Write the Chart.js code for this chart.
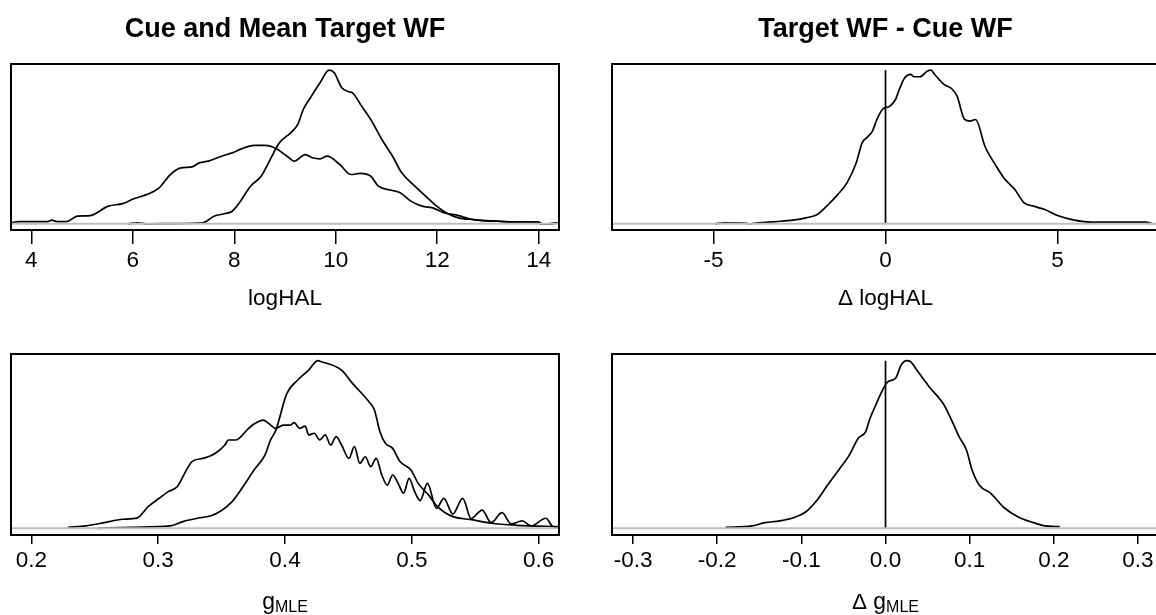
<!DOCTYPE html>
<html><head><meta charset="utf-8">
<script src="https://cdn.jsdelivr.net/npm/chart.js@4.4.1/dist/chart.umd.min.js"></script>
<style>
html,body{margin:0;padding:0;background:#fff;overflow:hidden;width:1156px;height:615px;position:relative;}
canvas{position:absolute;}
</style></head><body>
<canvas id="c1"></canvas><canvas id="c2"></canvas><canvas id="c3"></canvas><canvas id="c4"></canvas>
<script>
// ---------- DATA ----------
const titleLeft = "Cue and Mean Target WF";
const titleRight = "Target WF - Cue WF";

// Panel 1: logHAL (cue vs mean target)
const logHAL_ticks = [4, 6, 8, 10, 12, 14];
const logHAL_labels = ["4", "6", "8", "10", "12", "14"];
const logHAL_target_x = [5.91,6.09,6.31,6.81,7.38,7.60,7.82,7.96,8.10,8.32,8.53,8.71,8.89,9.11,9.25,9.36,9.50,9.69,9.87,9.97,10.12,10.26,10.33,10.51,10.69,10.91,11.12,11.30,11.56,11.77,11.99,12.20,12.42,12.71,13.07,13.43,14.00,14.07,14.22,14.41];
const logHAL_target_y = [0,0.007,0,0.002,0.007,0.05,0.067,0.082,0.137,0.245,0.31,0.42,0.527,0.592,0.646,0.744,0.82,0.918,1,0.983,0.885,0.859,0.852,0.766,0.679,0.549,0.44,0.332,0.245,0.18,0.115,0.067,0.039,0.028,0.02,0.013,0.011,0,0,0.007];
const logHAL_cue_x = [3.59,3.76,4.33,4.40,4.51,4.69,4.91,5.16,5.52,5.80,6.02,6.27,6.52,6.74,6.95,7.17,7.31,7.49,7.75,7.96,8.14,8.39,8.61,8.83,9.04,9.18,9.40,9.54,9.69,9.83,10.08,10.30,10.48,10.69,10.84,11.09,11.27,11.48,11.70,11.91,12.13,12.42,12.63,12.92,13.21,13.43,14.00,14.03,14.18,14.41];
const logHAL_cue_y = [0.007,0.015,0.015,0.024,0.015,0.015,0.05,0.054,0.115,0.132,0.163,0.19,0.234,0.321,0.364,0.371,0.397,0.408,0.44,0.462,0.488,0.51,0.51,0.488,0.44,0.408,0.451,0.43,0.423,0.44,0.386,0.321,0.328,0.31,0.245,0.219,0.202,0.148,0.115,0.104,0.072,0.054,0.033,0.02,0.017,0.011,0.011,0,0,0.007];

// Panel 2: delta logHAL
const dlogHAL_ticks = [-5, 0, 5];
const dlogHAL_labels = ["-5", "0", "5"];
const dlogHAL_x = [-4.96,-4.69,-4.04,-3.98,-3.72,-3.17,-2.69,-2.31,-1.98,-1.66,-1.39,-1.12,-0.85,-0.68,-0.52,-0.38,-0.25,-0.09,0.13,0.29,0.40,0.56,0.73,0.83,1.00,1.21,1.32,1.43,1.70,1.92,2.08,2.30,2.46,2.62,2.89,3.22,3.44,3.76,4.03,4.30,4.63,5.00,5.49,5.98,7.55,7.77];
const dlogHAL_y = [0,0.007,0.004,0,0.007,0.015,0.024,0.039,0.061,0.126,0.19,0.267,0.397,0.527,0.566,0.603,0.679,0.744,0.766,0.809,0.874,0.95,0.972,0.957,0.957,0.993,1,0.972,0.907,0.88,0.831,0.679,0.668,0.679,0.505,0.375,0.299,0.223,0.137,0.115,0.093,0.054,0.024,0.011,0.011,0];

// Panel 3: gMLE (cue vs mean target)
const gMLE_ticks = [0.2, 0.3, 0.4, 0.5, 0.6];
const gMLE_labels = ["0.2", "0.3", "0.4", "0.5", "0.6"];
const gMLE_target_x = [0.2519,0.2807,0.3094,0.3195,0.331,0.341,0.3497,0.3583,0.367,0.3756,0.3842,0.3886,0.3928,0.4015,0.4101,0.4187,0.4259,0.4288,0.4446,0.4532,0.4662,0.4705,0.4748,0.4791,0.4849,0.4907,0.4993,0.505,0.5136,0.5194,0.5309,0.5482,0.5626,0.5827,0.6164];
const gMLE_target_y = [0,0.006,0.014,0.04,0.06,0.073,0.105,0.159,0.249,0.348,0.437,0.527,0.586,0.805,0.885,0.944,1,0.994,0.944,0.865,0.755,0.706,0.577,0.507,0.477,0.398,0.348,0.268,0.195,0.135,0.074,0.05,0.03,0.018,0.01];
const gMLE_cue_x = [0.2289,0.2432,0.2576,0.272,0.2835,0.2921,0.3008,0.308,0.3152,0.3209,0.3267,0.3353,0.341,0.3468,0.3526,0.3554,0.3612,0.3713,0.3756,0.3828,0.3871,0.3928,0.3986,0.4043,0.4072,0.4115,0.4159,0.4187,0.4231,0.4274,0.4317,0.436,0.4403,0.4446,0.4504,0.4547,0.459,0.4633,0.4676,0.4719,0.4763,0.4806,0.4849,0.4892,0.4935,0.4978,0.5022,0.5065,0.5123,0.5194,0.5252,0.5323,0.5401,0.5467,0.5554,0.5625,0.5711,0.5783,0.5869,0.5941,0.6056,0.6114,0.6164];
const gMLE_cue_y = [0.006,0.014,0.034,0.054,0.062,0.129,0.179,0.219,0.249,0.328,0.398,0.417,0.431,0.457,0.497,0.527,0.527,0.596,0.622,0.646,0.626,0.596,0.616,0.616,0.63,0.596,0.61,0.557,0.567,0.527,0.557,0.497,0.547,0.497,0.417,0.487,0.388,0.427,0.368,0.417,0.318,0.258,0.318,0.268,0.209,0.298,0.219,0.165,0.268,0.119,0.179,0.085,0.179,0.058,0.109,0.034,0.093,0.026,0.044,0.014,0.06,0.01,0.006];

// Panel 4: delta gMLE
const dgMLE_ticks = [-0.3, -0.2, -0.1, 0.0, 0.1, 0.2, 0.3];
const dgMLE_labels = ["-0.3", "-0.2", "-0.1", "0.0", "0.1", "0.2", "0.3"];
const dgMLE_x = [-0.19,-0.159,-0.143,-0.1255,-0.1078,-0.0945,-0.0812,-0.07,-0.0556,-0.0435,-0.0324,-0.0235,-0.0191,-0.0124,-0.0035,0.0031,0.012,0.0186,0.0253,0.0297,0.0386,0.0519,0.0696,0.0785,0.0874,0.0962,0.1029,0.1118,0.1251,0.1406,0.1583,0.176,0.1894,0.207];
const dgMLE_y = [0.006,0.014,0.034,0.044,0.066,0.099,0.169,0.249,0.348,0.432,0.537,0.577,0.646,0.726,0.825,0.875,0.895,0.974,1,0.994,0.934,0.845,0.736,0.646,0.547,0.467,0.348,0.255,0.209,0.124,0.066,0.034,0.014,0.01];

// axis limits (R style 4% extension)
const logHAL_range = [3.6, 14.4];
const dlogHAL_range = [-7.95, 7.95];
const gMLE_range = [0.184, 0.616];
const dgMLE_range = [-0.325, 0.325];

// ---------- DRAWING ----------
const FONT = "'Liberation Sans', Arial, Helvetica, sans-serif";
const BASE = 22.5;
function pts(xs, ys) { return xs.map((x, i) => ({ x: x, y: ys[i] })); }

const boxPlugin = {
  id: 'box',
  afterDraw(chart) {
    const ctx = chart.ctx, a = chart.chartArea;
    ctx.save();
    ctx.strokeStyle = '#000'; ctx.lineWidth = 2;
    ctx.strokeRect(a.left, a.top, a.right - a.left, a.bottom - a.top);
    ctx.restore();
  }
};
const axisTitlePlugin = {
  id: 'axisTitle',
  afterDraw(chart, args, opts) {
    if (!opts || !opts.parts) return;
    const ctx = chart.ctx, a = chart.chartArea;
    ctx.save();
    ctx.fillStyle = '#000'; ctx.textBaseline = 'alphabetic'; ctx.textAlign = 'left';
    let total = 0;
    const widths = opts.parts.map(p => { ctx.font = p.size + 'px ' + FONT; const w = ctx.measureText(p.text).width; total += w; return w; });
    let x = (a.left + a.right) / 2 - total / 2;
    opts.parts.forEach((p, i) => {
      ctx.font = p.size + 'px ' + FONT;
      ctx.fillText(p.text, x, a.bottom + opts.offset + (p.dy || 0));
      x += widths[i];
    });
    ctx.restore();
  }
};

function makePanel(id, pos, spec) {
  const cv = document.getElementById(id);
  cv.width = pos.w; cv.height = pos.h;
  cv.style.left = pos.x + 'px'; cv.style.top = pos.y + 'px';
  cv.style.width = pos.w + 'px'; cv.style.height = pos.h + 'px';
  const datasets = [];
  datasets.push({ data: [{ x: spec.range[0], y: 0 }, { x: spec.range[1], y: 0 }], borderColor: '#bebebe', borderWidth: 2, pointRadius: 0 });
  let peak = 0;
  spec.curves.forEach(c => {
    peak = Math.max(peak, Math.max.apply(null, c[1]));
    datasets.push({ data: pts(c[0], c[1]), borderColor: '#000', borderWidth: 1.7, pointRadius: 0, cubicInterpolationMode: 'monotone' });
  });
  if (spec.zeroLine) {
    datasets.push({ data: [{ x: 0, y: 0 }, { x: 0, y: peak }], borderColor: '#000', borderWidth: 1.7, pointRadius: 0 });
  }
  new Chart(cv, {
    type: 'line',
    data: { datasets: datasets },
    options: {
      responsive: false, animation: false, devicePixelRatio: 1,
      layout: { padding: { left: pos.pl, right: pos.pr, top: pos.pt, bottom: 0 } },
      plugins: {
        legend: { display: false }, tooltip: { enabled: false },
        title: { display: !!spec.title, text: spec.title || '', color: '#000',
          font: { family: FONT, size: 27, weight: 'bold', lineHeight: 1.2 }, padding: { top: 13.3, bottom: 18.3 } },
        axisTitle: { parts: spec.axisParts, offset: spec.axisOffset }
      },
      scales: {
        x: {
          type: 'linear', position: 'bottom', min: spec.range[0], max: spec.range[1],
          afterBuildTicks: s => { s.ticks = spec.ticks.map(v => ({ value: v })); },
          afterFit: s => { s.height = pos.h - pos.boxBottom; },
          ticks: { autoSkip: false, maxRotation: 0, minRotation: 0, padding: spec.tickPad, color: '#000',
            font: { family: FONT, size: BASE, lineHeight: 1.2 }, callback: (v, i) => spec.labels[i] },
          grid: { display: true, drawOnChartArea: false, drawTicks: true, tickLength: spec.tickLen, color: '#000', lineWidth: 1.5 },
          border: { display: false }
        },
        y: { display: false, min: -0.04, max: 1.04 }
      }
    },
    plugins: [boxPlugin, axisTitlePlugin]
  });
}

makePanel('c1', { x: 0, y: 0, w: 570, h: 320, pl: 11, pr: 11, pt: 0, boxBottom: 230 }, {
  title: titleLeft, range: logHAL_range, ticks: logHAL_ticks, labels: logHAL_labels,
  curves: [[logHAL_cue_x, logHAL_cue_y], [logHAL_target_x, logHAL_target_y]],
  tickLen: 14, tickPad: 3, axisOffset: 75.3, axisParts: [{ text: 'logHAL', size: BASE }]
});
makePanel('c2', { x: 587, y: 0, w: 597, h: 320, pl: 25, pr: 25, pt: 0, boxBottom: 230 }, {
  title: titleRight, range: dlogHAL_range, ticks: dlogHAL_ticks, labels: dlogHAL_labels,
  curves: [[dlogHAL_x, dlogHAL_y]], zeroLine: true,
  tickLen: 14, tickPad: 3, axisOffset: 75.3, axisParts: [{ text: '\u0394 logHAL', size: BASE }]
});
makePanel('c3', { x: 0, y: 344, w: 570, h: 271, pl: 11, pr: 11, pt: 10, boxBottom: 191 }, {
  range: gMLE_range, ticks: gMLE_ticks, labels: gMLE_labels,
  curves: [[gMLE_cue_x, gMLE_cue_y], [gMLE_target_x, gMLE_target_y]],
  tickLen: 9, tickPad: 3, axisOffset: 73.7, axisParts: [{ text: 'g', size: 23 }, { text: 'MLE', size: 16, dy: 3 }]
});
makePanel('c4', { x: 587, y: 344, w: 597, h: 271, pl: 25, pr: 25, pt: 10, boxBottom: 191 }, {
  range: dgMLE_range, ticks: dgMLE_ticks, labels: dgMLE_labels,
  curves: [[dgMLE_x, dgMLE_y]], zeroLine: true,
  tickLen: 9, tickPad: 3, axisOffset: 73.7, axisParts: [{ text: '\u0394 ', size: BASE }, { text: 'g', size: 23 }, { text: 'MLE', size: 16, dy: 3 }]
});
</script>
</body></html>
